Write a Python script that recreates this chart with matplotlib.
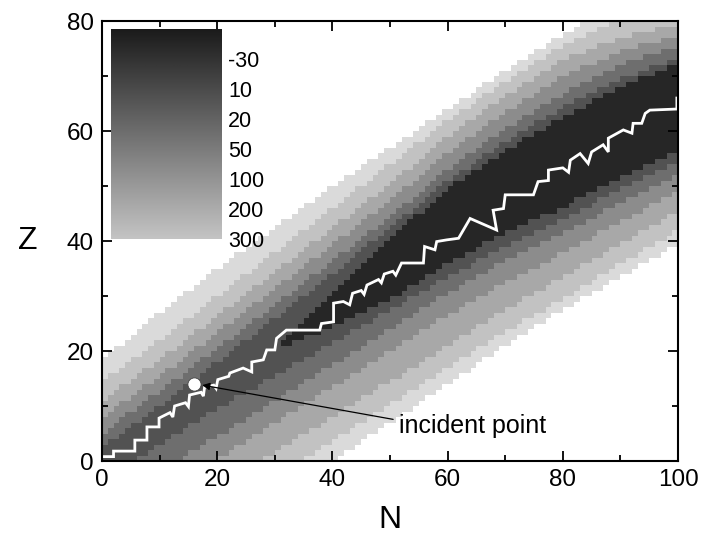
import numpy as np
import matplotlib
matplotlib.use('Agg')
import matplotlib.pyplot as plt
from matplotlib.colors import ListedColormap, BoundaryNorm, LinearSegmentedColormap

plt.rcParams['font.family'] = ['Liberation Sans', 'DejaVu Sans']

# band edges are sampled every 10 neutrons
N_SAMPLES = [0, 10, 20, 30, 40, 50, 60, 70, 80, 90, 100]

# top / bottom Z edge of each gray band, darkest (innermost) first
BAND_TOP = [
    [1.0, 6.5, 13.5, 20.5, 31.0, 40.5, 49.5, 56.5, 62.6, 68.0, 72.3],
    [2.5, 10.0, 18.0, 26.0, 34.0, 42.5, 51.0, 58.0, 64.4, 69.5, 73.5],
    [5.0, 12.8, 20.5, 28.5, 36.5, 44.5, 53.0, 60.5, 66.8, 72.0, 75.6],
    [8.0, 15.5, 23.5, 31.5, 39.5, 47.5, 56.0, 63.5, 69.9, 74.5, 77.5],
    [11.0, 18.5, 26.5, 34.5, 42.5, 50.5, 59.0, 66.5, 72.9, 77.0, 79.6],
    [14.5, 22.0, 30.0, 38.0, 46.0, 54.0, 62.0, 69.0, 75.5, 80.5, 82.5],
    [18.4, 27.0, 35.0, 42.5, 50.0, 57.0, 64.0, 71.0, 77.5, 83.5, 88.0],
]
BAND_BOTTOM = [
    [1.0, 6.5, 13.5, 20.5, 24.5, 29.5, 36.0, 41.5, 46.2, 51.5, 56.5],
    [-3.0, 3.0, 9.5, 15.5, 21.5, 27.5, 33.5, 39.0, 43.8, 49.5, 54.5],
    [-8.0, -2.0, 4.5, 11.0, 17.5, 24.0, 30.5, 36.5, 41.4, 47.0, 52.0],
    [-12.0, -6.0, 0.5, 7.0, 13.5, 20.0, 26.5, 32.5, 37.8, 43.5, 49.0],
    [-17.0, -11.0, -4.5, 1.7, 8.0, 14.5, 21.0, 27.5, 33.5, 39.5, 45.5],
    [-22.0, -15.5, -9.0, -2.8, 3.7, 10.5, 17.0, 23.5, 29.5, 36.0, 42.0],
    [-26.0, -19.5, -13.0, -6.5, 0.0, 7.0, 14.0, 21.0, 27.5, 33.5, 39.5],
]
BAND_COLORS = ['#262626', '#525252', '#6e6e6e', '#8c8c8c', '#a8a8a8', '#c2c2c2', '#dadada']

LEGEND_LABELS = ['-30', '10', '20', '50', '100', '200', '300']

# most probable (N, Z) path
PATH_N = [0, 2, 2, 5.7, 5.7, 7.8, 7.8, 9.9, 9.9, 11.8, 12.3, 12.6, 14.5, 15, 15.2, 17.2,
          17.6, 17.8, 19.4, 19.8, 20.1, 22, 22.2, 24.5, 26, 26, 28, 28.6, 30, 30.3,
          32, 37.8, 38.1, 40.2, 40.2, 41.9, 43, 43.5, 45, 45.5, 46, 48, 48.5, 49,
          50.5, 51, 52, 55.8, 56, 57.8, 58.1, 59.8, 61.9, 63.9, 68.5, 67.9, 69.7, 70,
          74.9, 75.7, 77.5, 77.5, 80, 81, 81.3, 83, 84.4, 85, 87, 87.9, 87.9, 90.5,
          92, 92.2, 93.7, 94.3, 95.1, 99.8, 99.8]
PATH_Z = [0.8, 0.8, 1.8, 1.8, 3.8, 3.8, 6.2, 6.2, 7.8, 8.8, 8.0, 10, 10.6, 9.9, 12, 12.5,
          11.8, 13.4, 13.8, 13.2, 14.8, 15.4, 16, 16.9, 16.2, 18, 18.4, 20.2, 20.2, 22.3,
          23.8, 23.8, 25, 25.3, 28.7, 29, 28.4, 30.5, 31, 30.3, 32, 33, 32.4, 34,
          34.5, 33.8, 36, 36, 39, 38.4, 39.9, 40.2, 40.5, 44.1, 42, 45.6, 45.9, 48.4,
          48.4, 50.8, 51, 52.9, 53.3, 52.5, 54.7, 55.9, 54.1, 56.2, 57.5, 56.2, 58.7, 60.2,
          59.6, 61.4, 61.4, 63.2, 63.8, 64, 66]

INCIDENT = (16, 14)


def band_grid():
    n_edges = np.arange(0, 101)
    z_edges = np.arange(0, 81)
    nc = n_edges[:-1] + 0.5
    zc = z_edges[:-1] + 0.5
    grid = np.full((len(zc), len(nc)), len(BAND_COLORS))
    # outer bands first, inner ones paint over them
    for k in range(len(BAND_COLORS) - 1, -1, -1):
        top = np.interp(nc, N_SAMPLES, BAND_TOP[k])
        bot = np.interp(nc, N_SAMPLES, BAND_BOTTOM[k])
        inside = (zc[:, None] >= bot[None, :]) & (zc[:, None] < top[None, :])
        grid[inside] = k
    return n_edges, z_edges, grid


def main():
    fig = plt.figure(figsize=(7.04, 5.38), dpi=100)
    ax = fig.add_axes([0.1449, 0.1431, 0.8182, 0.8178])

    n_edges, z_edges, grid = band_grid()
    cmap = ListedColormap(BAND_COLORS + ['white'])
    norm = BoundaryNorm(np.arange(-0.5, len(BAND_COLORS) + 1.5), cmap.N)
    ax.pcolormesh(n_edges, z_edges, grid, cmap=cmap, norm=norm, shading='flat')

    ax.plot(PATH_N, PATH_Z, color='white', lw=2.0, solid_joinstyle='miter')
    ax.plot(*INCIDENT, 'o', ms=9.5, mfc='white', mec='#444444', mew=0.6, zorder=5)
    ax.annotate('incident point', xy=(17.4, 13.8), xytext=(51.5, 6.3),
                fontsize=18, va='center', ha='left',
                arrowprops=dict(arrowstyle='-|>', color='black', lw=0.9,
                                mutation_scale=11, shrinkA=2, shrinkB=0,
                                relpos=(0, 0.75)))

    # gray scale key in the upper left corner
    key = ax.inset_axes([0.0156, 0.5045, 0.1910, 0.4775])
    grad = LinearSegmentedColormap.from_list('key', ['#1a1a1a', '#c4c4c4'])
    key.imshow(np.linspace(0, 1, 256)[:, None], aspect='auto', cmap=grad)
    key.set_axis_off()
    for i, lab in enumerate(LEGEND_LABELS):
        ax.text(0.219, 0.909 - i * 0.0682, lab, transform=ax.transAxes,
                fontsize=15.5, va='center', ha='left')

    ax.set_xlim(0, 100)
    ax.set_ylim(0, 80)
    ax.set_xticks(np.arange(0, 101, 20))
    ax.set_xticks(np.arange(10, 100, 20), minor=True)
    ax.set_yticks(np.arange(0, 81, 20))
    ax.set_yticks(np.arange(10, 80, 20), minor=True)
    ax.tick_params(which='both', direction='in', top=True, right=True, width=1.3,
                   labelsize=17.5, pad=6)
    ax.tick_params(which='major', length=7)
    ax.tick_params(which='minor', length=4.5)
    for sp in ax.spines.values():
        sp.set_linewidth(1.5)

    ax.set_xlabel('N', fontsize=23, labelpad=10)
    ax.set_ylabel('Z', fontsize=23, rotation=0, labelpad=28, va='center')

    fig.savefig('out.png', dpi=100)


if __name__ == '__main__':
    main()
